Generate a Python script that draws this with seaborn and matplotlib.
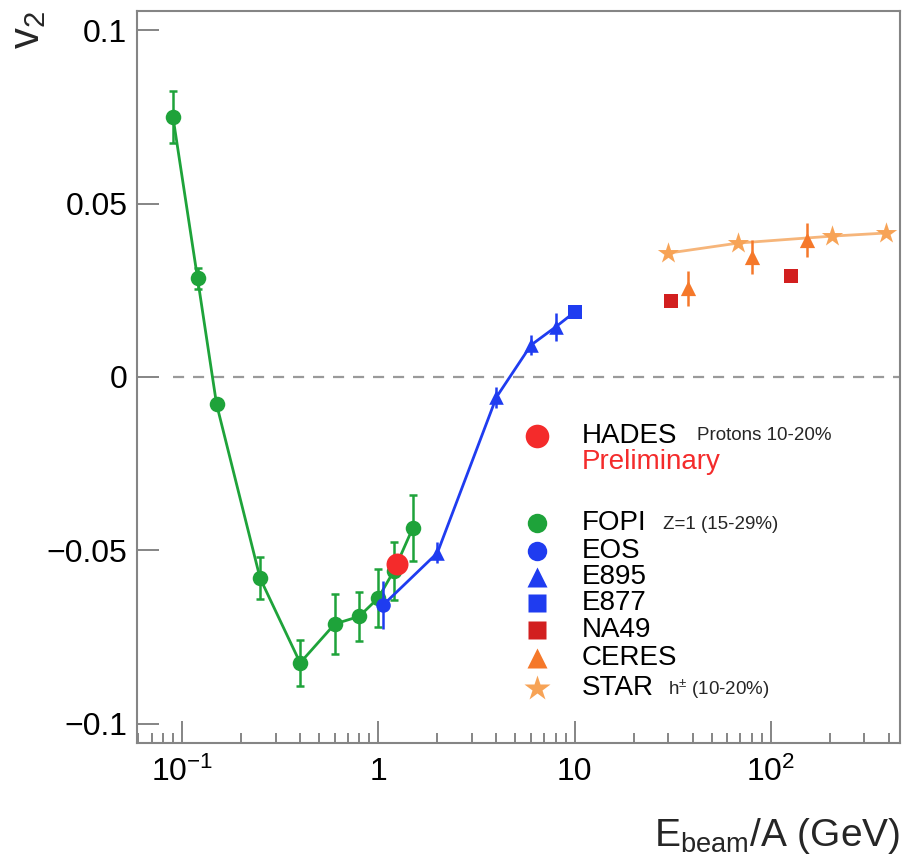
import numpy as np
import pandas as pd
import matplotlib
matplotlib.use("Agg")
import matplotlib.pyplot as plt
import matplotlib.ticker as mticker
import seaborn as sns

# ---------------- data ----------------
fopi_x = [0.09, 0.12, 0.15, 0.25, 0.4, 0.6, 0.8, 1.0, 1.2, 1.5]
fopi_y = [0.0749, 0.0285, -0.0078, -0.058, -0.0824, -0.0712, -0.069, -0.0637, -0.0559, -0.0435]
fopi_e = [0.0075, 0.003, 0.0015, 0.006, 0.0067, 0.0087, 0.007, 0.0084, 0.0084, 0.0095]

eos_x = [1.06]
eos_y = [-0.0657]
eos_e = [0.007]

e895_x = [2.0, 4.0, 6.0, 8.0]
e895_y = [-0.0507, -0.0058, 0.0092, 0.0144]
e895_e = [0.003, 0.003, 0.003, 0.004]

e877_x = [10.0]
e877_y = [0.0187]

na49_x = [31.0, 126.0]
na49_y = [0.0219, 0.0291]

ceres_x = [38.0, 80.0, 152.0]
ceres_y = [0.0256, 0.0346, 0.0395]
ceres_e = [0.005, 0.005, 0.0048]

star_x = [30.0, 68.0, 204.0, 385.0]
star_y = [0.0357, 0.0386, 0.0406, 0.0415]

hades_x = [1.25]
hades_y = [-0.0539]

yticks = [-0.1, -0.05, 0.0, 0.05, 0.1]
ytick_labels = ["\u22120.1", "\u22120.05", "0", "0.05", "0.1"]
xticks = [0.1, 1, 10, 100]
xtick_labels = [r"$\mathregular{10^{-1}}$", "1", "10", r"$\mathregular{10^{2}}$"]

# ---------------- style ----------------
sns.set_theme(style="white")
plt.rcParams["font.family"] = ["Liberation Sans", "DejaVu Sans"]
plt.rcParams["mathtext.fontset"] = "custom"
plt.rcParams["mathtext.rm"] = "Liberation Sans"
plt.rcParams["mathtext.it"] = "Liberation Sans:italic"
plt.rcParams["mathtext.bf"] = "Liberation Sans:bold"

C_GREEN = "#1ea33a"
C_BLUE = "#1f3cf0"
C_RED = "#f42b2b"
C_DRED = "#d21f1f"
C_ORANGE = "#f5782a"
C_STAR = "#f7a356"
C_STARLINE = "#f6b57a"
C_AX = "#858585"

fig = plt.figure(figsize=(9.10, 8.59), dpi=100)
ax = fig.add_axes([137 / 910, 1 - 743 / 859, 763 / 910, 732 / 859])
ax.set_xscale("log")
ax.set_xlim(0.059, 455)
ax.set_ylim(-0.1055, 0.1055)

# zero reference line
ax.hlines(0, fopi_x[0], ax.get_xlim()[1], colors="#9a9a9a", linestyles=(0, (5, 4)), lw=1.6, zorder=1)

# FOPI
ax.errorbar(fopi_x, fopi_y, yerr=fopi_e, fmt="none", ecolor=C_GREEN, elinewidth=1.8, capsize=3, capthick=1.8, zorder=3)
sns.lineplot(x=fopi_x, y=fopi_y, ax=ax, color=C_GREEN, lw=2.0, sort=False, estimator=None, zorder=3)
sns.scatterplot(x=fopi_x, y=fopi_y, ax=ax, color=C_GREEN, marker="o", s=125, linewidth=0, zorder=4)

# blue series (EOS, E895, E877) joined by a line
blue_x = eos_x + e895_x + e877_x
blue_y = eos_y + e895_y + e877_y
sns.lineplot(x=blue_x, y=blue_y, ax=ax, color=C_BLUE, lw=2.0, sort=False, estimator=None, zorder=5)
ax.errorbar(eos_x, eos_y, yerr=eos_e, fmt="none", ecolor=C_BLUE, elinewidth=1.8, zorder=5)
ax.errorbar(e895_x, e895_y, yerr=e895_e, fmt="none", ecolor=C_BLUE, elinewidth=1.8, zorder=5)
sns.scatterplot(x=eos_x, y=eos_y, ax=ax, color=C_BLUE, marker="o", s=110, linewidth=0, zorder=6)
sns.scatterplot(x=e895_x, y=e895_y, ax=ax, color=C_BLUE, marker="^", s=110, linewidth=0, zorder=6)
sns.scatterplot(x=e877_x, y=e877_y, ax=ax, color=C_BLUE, marker="s", s=110, linewidth=0, zorder=6)

# STAR
sns.lineplot(x=star_x, y=star_y, ax=ax, color=C_STARLINE, lw=2.0, sort=False, estimator=None, zorder=3)
sns.scatterplot(x=star_x, y=star_y, ax=ax, color=C_STAR, marker="*", s=260, linewidth=0, zorder=4)

# CERES
ax.errorbar(ceres_x, ceres_y, yerr=ceres_e, fmt="none", ecolor=C_ORANGE, elinewidth=1.8, zorder=5)
sns.scatterplot(x=ceres_x, y=ceres_y, ax=ax, color=C_ORANGE, marker="^", s=120, linewidth=0, zorder=6)

# NA49
sns.scatterplot(x=na49_x, y=na49_y, ax=ax, color=C_DRED, marker="s", s=115, linewidth=0, zorder=6)

# HADES
sns.scatterplot(x=hades_x, y=hades_y, ax=ax, color=C_RED, marker="o", s=250, linewidth=0, zorder=8)

# ---------------- axes styling ----------------
ax.set_yticks(yticks)
ax.set_yticklabels(ytick_labels)
ax.yaxis.set_minor_locator(mticker.NullLocator())
ax.set_xticks(xticks)
ax.set_xticklabels(xtick_labels)
ax.xaxis.set_minor_locator(mticker.LogLocator(base=10, subs=np.arange(2, 10), numticks=20))
ax.xaxis.set_minor_formatter(mticker.NullFormatter())

ax.tick_params(axis="both", which="both", bottom=True, left=True, top=False, right=False)
ax.tick_params(axis="both", which="major", direction="in", length=16, width=1.4, color=C_AX,
               labelsize=23, labelcolor="black")
ax.tick_params(axis="x", which="major", pad=10)
ax.tick_params(axis="y", which="major", pad=7)
ax.tick_params(axis="x", which="minor", direction="in", length=7, width=1.4, color=C_AX)
for sp in ax.spines.values():
    sp.set_color(C_AX)
    sp.set_linewidth(1.5)
    sp.set_visible(True)

ax.set_xlabel(r"E$_{\mathregular{beam}}$/A (GeV)", fontsize=28, loc="right", labelpad=20)
ax.set_ylabel(r"v$_{2}$", fontsize=30, loc="top")
ax.yaxis.set_label_coords(-0.116, 1.0)

# ---------------- legend (manual, in axes coordinates) ----------------
mx, tx = 0.524, 0.583
leg_rows = [
    ("HADES", C_RED, "o", 17, 0.4194),
    ("FOPI", C_GREEN, "o", 14, 0.3005),
    ("EOS", C_BLUE, "o", 14, 0.2623),
    ("E895", C_BLUE, "^", 14, 0.2268),
    ("E877", C_BLUE, "s", 13, 0.1913),
    ("NA49", C_DRED, "s", 13, 0.1544),
    ("CERES", C_ORANGE, "^", 14, 0.1161),
    ("STAR", C_STAR, "*", 19, 0.0751),
]
for name, col, mk, ms, yy in leg_rows:
    ax.plot([mx], [yy], marker=mk, ms=ms, color=col, mec="none", ls="none",
            transform=ax.transAxes, clip_on=False, zorder=9)
    ax.text(tx, yy, name, transform=ax.transAxes, fontsize=20, va="center", ha="left", color="black")

ax.text(tx, 0.3839, "Preliminary", transform=ax.transAxes, fontsize=20, va="center", ha="left", color=C_RED)
ax.text(0.734, 0.4194, "Protons 10-20%", transform=ax.transAxes, fontsize=13.5, va="center", ha="left")
ax.text(0.689, 0.2985, "Z=1 (15-29%)", transform=ax.transAxes, fontsize=13.5, va="center", ha="left")
ax.text(0.696, 0.0731, r"h$^{\pm}$ (10-20%)", transform=ax.transAxes, fontsize=13.5, va="center", ha="left")

fig.savefig("out.png", dpi=100)
